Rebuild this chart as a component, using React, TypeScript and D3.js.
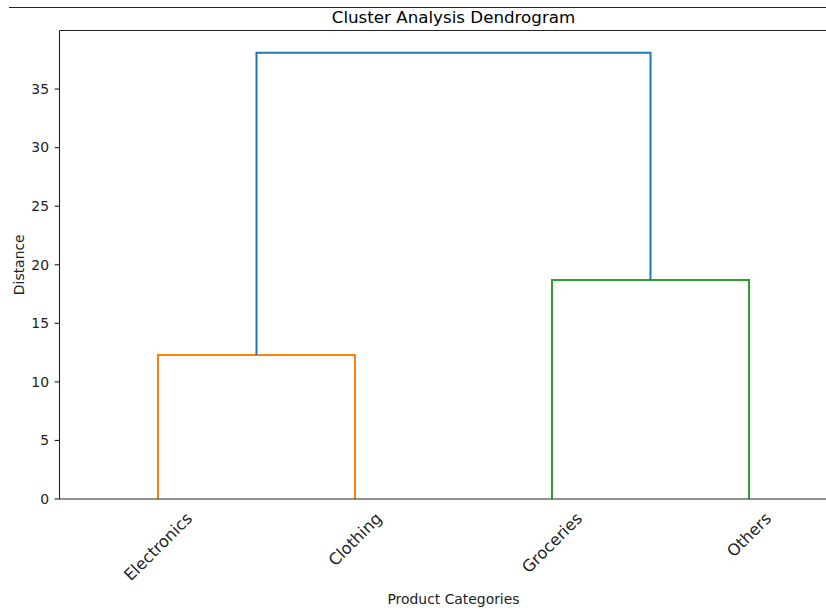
import React from "react";
import * as d3 from "d3";

const categories = ["Electronics", "Clothing", "Groceries", "Others"];
const leafPositions = [5, 15, 25, 35];
// merges: [left node, right node, height]; nodes 0..3 are leaves, 4.. are clusters
const mergeLeft = [0, 2, 4];
const mergeRight = [1, 3, 5];
const mergeHeights = [12.3, 18.7, 38.1];
const mergeColors = ["#ff7f0e", "#2ca02c", "#1f77b4"];
const yTicks = [0, 5, 10, 15, 20, 25, 30, 35];

const W = 826;
const H = 610;
const FONT = "DejaVu Sans, sans-serif";

function measure(text: string, size: number): number {
  if (typeof document === "undefined") return text.length * size * 0.6;
  const c = document.createElement("canvas");
  const ctx = c.getContext("2d");
  if (!ctx) return text.length * size * 0.6;
  ctx.font = `${size}px "DejaVu Sans"`;
  return ctx.measureText(text).width;
}

export default function App() {
  const left = 59.5;
  const right = 847.5;
  const top = 30.5;
  const bottom = 499;
  const x = d3.scaleLinear().domain([0, 40]).range([left, right]);
  const y = d3.scaleLinear().domain([0, 40]).range([bottom, top]);

  const nodeX: number[] = [...leafPositions];
  const nodeY: number[] = leafPositions.map(() => 0);
  const links: { d: string; color: string }[] = [];
  mergeHeights.forEach((h, i) => {
    const a = mergeLeft[i];
    const b = mergeRight[i];
    const path = d3.path();
    path.moveTo(x(nodeX[a]), y(nodeY[a]));
    path.lineTo(x(nodeX[a]), y(h));
    path.lineTo(x(nodeX[b]), y(h));
    path.lineTo(x(nodeX[b]), y(nodeY[b]));
    links.push({ d: path.toString(), color: mergeColors[i] });
    nodeX.push((nodeX[a] + nodeX[b]) / 2);
    nodeY.push(h);
  });

  const small = 13.9;
  const labelSize = 16.2;
  const textH = labelSize * 1.164;
  const y0 = bottom + 4.9 + 4.9;

  return (
    <svg
      width={W}
      height={H}
      style={{ position: "absolute", left: 0, top: 0, background: "#fff" }}
      fontFamily={FONT}
    >
      <rect x={0} y={0} width={W} height={H} fill="#fff" />
      <line x1={9} x2={W} y1={7.5} y2={7.5} stroke="#222" strokeWidth={1} />
      <text x={(left + right) / 2} y={22.5} textAnchor="middle" fontSize={16.7} fill="#000">
        Cluster Analysis Dendrogram
      </text>

      {links.map((l, i) => (
        <path key={i} d={l.d} fill="none" stroke={l.color} strokeWidth={2} />
      ))}

      <line x1={left} x2={left} y1={top} y2={bottom} stroke="#222" strokeWidth={1.1} />
      <line x1={left} x2={right} y1={top} y2={top} stroke="#222" strokeWidth={1.1} />
      <line x1={left} x2={right} y1={bottom} y2={bottom} stroke="#222" strokeWidth={1.1} />

      {yTicks.map((t) => (
        <g key={t}>
          <line x1={left - 4.9} x2={left} y1={y(t)} y2={y(t)} stroke="#222" strokeWidth={1.1} />
          <text
            x={left - 10.5}
            y={y(t)}
            dy="0.35em"
            textAnchor="end"
            fontSize={small}
            fill="#222"
          >
            {t}
          </text>
        </g>
      ))}

      {categories.map((c, i) => {
        const px = x(leafPositions[i]);
        const w = measure(c, labelSize);
        const cy = y0 + ((w + textH) * Math.SQRT1_2) / 2;
        return (
          <text
            key={c}
            transform={`translate(${px},${cy}) rotate(-45)`}
            textAnchor="middle"
            dy="0.35em"
            fontSize={labelSize}
            fill="#222"
          >
            {c}
          </text>
        );
      })}

      <text
        transform={`translate(24,${(top + bottom) / 2}) rotate(-90)`}
        textAnchor="middle"
        fontSize={small}
        fill="#222"
      >
        Distance
      </text>
      <text x={(left + right) / 2} y={603.5} textAnchor="middle" fontSize={small} fill="#222">
        Product Categories
      </text>
    </svg>
  );
}
